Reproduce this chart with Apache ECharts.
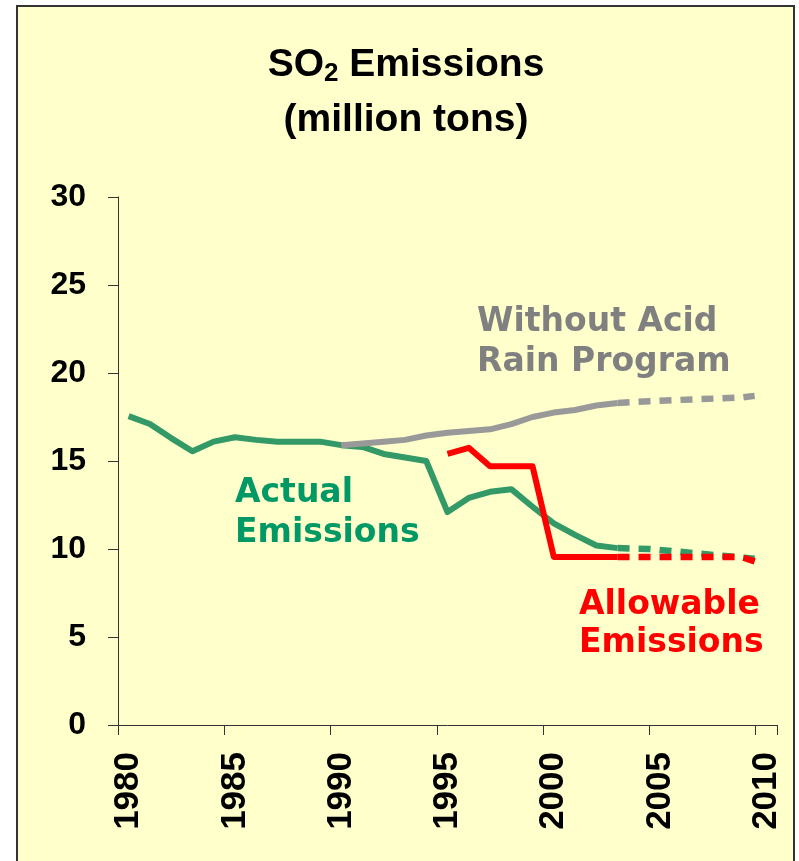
<!DOCTYPE html>
<html>
<head>
<meta charset="utf-8">
<script src="https://cdn.jsdelivr.net/npm/echarts@6/dist/echarts.min.js"></script>
<style>html,body{margin:0;padding:0;background:#fff;}#c{width:799px;height:861px;}</style>
</head>
<body>
<div id="c"></div>
<script>
const years = [];
for (let y = 1980; y <= 2010; y++) years.push(String(y));
const yTicks = [0, 5, 10, 15, 20, 25, 30];

// Actual emissions (solid 1980-2003), projection dashed to the 2010 tick
const actualYears = [1980,1981,1982,1983,1984,1985,1986,1987,1988,1989,1990,1991,1992,1993,1994,1995,1996,1997,1998,1999,2000,2001,2002,2003];
const actualVals  = [17.55,17.1,16.3,15.55,16.1,16.35,16.2,16.1,16.1,16.1,15.9,15.8,15.4,15.2,15.0,12.1,12.9,13.25,13.4,12.4,11.45,10.8,10.2,10.05];
const actualProjYears = [2003, 2004.5, 2009.45];
const actualProjVals  = [10.05, 10.0, 9.45];

// Allowable emissions
const allowYears = [1995,1996,1997,1998,1999,2000,2001,2002,2003];
const allowVals  = [15.4,15.75,14.7,14.7,14.7,9.55,9.55,9.55,9.55];
const allowProjYears = [2003, 2008.8, 2009.45];
const allowProjVals  = [9.55, 9.55, 9.3];

// Without Acid Rain Program
const withoutYears = [1990,1991,1992,1993,1994,1995,1996,1997,1998,1999,2000,2001,2002,2003];
const withoutVals  = [15.9,16.0,16.1,16.2,16.45,16.6,16.7,16.8,17.1,17.5,17.75,17.9,18.15,18.3];
const withoutProjYears = [2003, 2004.5, 2006.5, 2008.8, 2009.45];
const withoutProjVals  = [18.3, 18.4, 18.5, 18.6, 18.7];

function pairs(xs, vs) { return xs.map(function (x, i) { return [x, vs[i]]; }); }

const DASH = [12, 9];
function lineSeries(name, xs, vs, color, dashed) {
  return {
    name: name,
    type: 'line',
    xAxisIndex: 1,
    data: pairs(xs, vs),
    symbol: 'none',
    silent: true,
    animation: false,
    lineStyle: { color: color, width: dashed ? 6.5 : 6, type: dashed ? DASH : 'solid', cap: 'butt', join: 'round' }
  };
}

const chart = echarts.init(document.getElementById('c'), null, { renderer: 'canvas' });
chart.setOption({
  backgroundColor: '#ffffff',
  animation: false,
  grid: { left: 118, right: 22, top: 197, bottom: 136, containLabel: false },
  xAxis: [{
    type: 'category',
    data: years,
    boundaryGap: true,
    axisLine: { show: true, lineStyle: { color: '#333333', width: 1 } },
    axisTick: { show: true, interval: 4, length: 10, inside: false, lineStyle: { color: '#333333' } },
    axisLabel: {
      interval: 4, rotate: 90, margin: 27,
      fontFamily: 'Liberation Sans, Arial, sans-serif', fontWeight: 'bold', fontSize: 35, color: '#000000'
    },
    splitLine: { show: false }
  }, {
    type: 'value',
    min: 1979.5, max: 2010.5,
    show: false,
    splitLine: { show: false }
  }],
  yAxis: {
    type: 'value',
    min: yTicks[0], max: yTicks[yTicks.length - 1], interval: 5,
    axisLine: { show: true, lineStyle: { color: '#333333', width: 1 } },
    axisTick: { show: true, length: 10, inside: false, lineStyle: { color: '#333333' } },
    axisLabel: {
      margin: 32,
      fontFamily: 'Liberation Sans, Arial, sans-serif', fontWeight: 'bold', fontSize: 32, color: '#000000'
    },
    splitLine: { show: false }
  },
  graphic: [
    { type: 'rect', z: -10, silent: true,
      shape: { x: 17, y: 6, width: 777, height: 880 },
      style: { fill: '#FFFFCC', stroke: '#333333', lineWidth: 2 } },
    { type: 'text', z: 10, silent: true, x: 406, y: 38,
      style: {
        text: '{a|SO}{s|2}{a| Emissions}\n{a|(million tons)}',
        textAlign: 'center', textVerticalAlign: 'top',
        rich: {
          a: { fontFamily: 'Liberation Sans, Arial, sans-serif', fontWeight: 'bold', fontSize: 39, lineHeight: 55, fill: '#000' },
          s: { fontFamily: 'Liberation Sans, Arial, sans-serif', fontWeight: 'bold', fontSize: 26, lineHeight: 55, padding: [17, 0, 0, 0], fill: '#000' }
        }
      } },
    { type: 'text', z: 10, silent: true, x: 477, y: 303,
      style: { text: 'Without Acid\nRain Program', fill: '#808080',
        font: 'bold 33px "DejaVu Sans", Verdana, sans-serif', lineHeight: 39.5,
        textAlign: 'left', textVerticalAlign: 'top' } },
    { type: 'text', z: 10, silent: true, x: 235, y: 473,
      style: { text: 'Actual\nEmissions', fill: '#009966',
        font: 'bold 33px "DejaVu Sans", Verdana, sans-serif', lineHeight: 40,
        textAlign: 'left', textVerticalAlign: 'top' } },
    { type: 'text', z: 10, silent: true, x: 579, y: 586,
      style: { text: 'Allowable\nEmissions', fill: '#FF0000',
        font: 'bold 33px "DejaVu Sans", Verdana, sans-serif', lineHeight: 38,
        textAlign: 'left', textVerticalAlign: 'top' } }
  ],
  series: [
    lineSeries('Actual', actualYears, actualVals, '#339966', false),
    lineSeries('Actual projected', actualProjYears, actualProjVals, '#339966', true),
    lineSeries('Allowable', allowYears, allowVals, '#FF0000', false),
    lineSeries('Allowable projected', allowProjYears, allowProjVals, '#FF0000', true),
    lineSeries('Without', withoutYears, withoutVals, '#999999', false),
    lineSeries('Without projected', withoutProjYears, withoutProjVals, '#999999', true)
  ]
});
</script>
</body>
</html>
